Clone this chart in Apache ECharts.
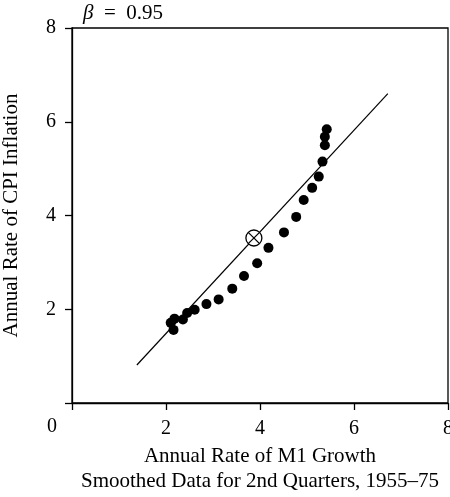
<!DOCTYPE html>
<html>
<head>
<meta charset="utf-8">
<script src="https://cdn.jsdelivr.net/npm/echarts@6/dist/echarts.min.js"></script>
<style>
  html, body { margin: 0; padding: 0; background: #fff; }
  #chart { width: 450px; height: 497px; }
</style>
</head>
<body>
<div id="chart"></div>
<script>
  // smoothed 2nd-quarter data, 1955-75
  var m1Growth = [5.42, 5.38, 5.38, 5.33, 5.25, 5.11, 4.93, 4.77, 4.51, 4.18, 3.94,
                  3.66, 3.41, 3.12, 2.86, 2.61, 2.45, 2.36, 2.18, 2.10, 2.16];
  var cpiInflation = [5.84, 5.68, 5.50, 5.15, 4.83, 4.59, 4.33, 3.97, 3.64, 3.31, 2.98,
                      2.71, 2.44, 2.21, 2.11, 1.99, 1.92, 1.78, 1.80, 1.71, 1.56];
  // fitted line, beta = 0.95
  var fitX = [1.38, 6.72];
  var fitY = [0.81, 6.60];
  // mean point
  var meanPoint = [3.87, 3.52];
  var axisTicks = [0, 2, 4, 6, 8];

  var FONT = '"Liberation Serif", "DejaVu Serif", serif';

  var myChart = echarts.init(document.getElementById('chart'));

  var dots = m1Growth.map(function (x, i) { return [x, cpiInflation[i]]; });
  var fitLine = fitX.map(function (x, i) { return [x, fitY[i]]; });

  var option = {
    animation: false,
    backgroundColor: '#fff',
    title: {
      text: '{b|β}\u2002=\u20020.95',
      left: 78,
      top: -2,
      textStyle: {
        fontFamily: FONT,
        fontSize: 21,
        fontWeight: 'normal',
        color: '#000',
        rich: {
          b: { fontFamily: FONT, fontSize: 21, fontStyle: 'italic', color: '#000' }
        }
      }
    },
    grid: {
      left: 72,
      right: 2,
      top: 28,
      bottom: 94,
      outerBoundsMode: 'none',
      containLabel: false,
      show: true,
      borderColor: '#000',
      borderWidth: 1.3,
      backgroundColor: 'transparent'
    },
    xAxis: {
      type: 'value',
      min: axisTicks[0],
      max: axisTicks[axisTicks.length - 1],
      interval: 2,
      name: 'Annual Rate of M1 Growth\nSmoothed Data for 2nd Quarters, 1955–75',
      nameLocation: 'middle',
      nameGap: 40,
      nameTextStyle: { fontFamily: FONT, fontSize: 21, color: '#000', lineHeight: 25 },
      axisLine: { lineStyle: { color: '#000', width: 1.3 } },
      axisTick: { length: 7, lineStyle: { color: '#000', width: 1.3 } },
      axisLabel: {
        margin: 16,
        fontFamily: FONT,
        fontSize: 20,
        color: '#000',
        formatter: function (v) { return v === 0 ? '' : v; }
      },
      splitLine: { show: false }
    },
    yAxis: {
      type: 'value',
      min: axisTicks[0],
      max: axisTicks[axisTicks.length - 1],
      interval: 2,
      name: 'Annual Rate of CPI Inflation',
      nameLocation: 'middle',
      nameGap: 50,
      nameTextStyle: { fontFamily: FONT, fontSize: 21, color: '#000' },
      axisLine: { lineStyle: { color: '#000', width: 1.3 } },
      axisTick: { length: 7, lineStyle: { color: '#000', width: 1.3 } },
      axisLabel: {
        margin: 16,
        fontFamily: FONT,
        fontSize: 20,
        color: '#000',
        formatter: function (v) { return v === 0 ? '' : v; }
      },
      splitLine: { show: false }
    },
    graphic: [
      {
        type: 'text',
        x: 52,
        y: 427,
        style: {
          text: '0',
          fontFamily: FONT,
          fontSize: 20,
          fill: '#000',
          align: 'center',
          verticalAlign: 'middle'
        }
      }
    ],
    series: [
      {
        type: 'line',
        data: fitLine,
        symbol: 'none',
        lineStyle: { color: '#000', width: 1.2 },
        z: 2
      },
      {
        type: 'scatter',
        data: dots,
        symbol: 'circle',
        symbolSize: 10,
        itemStyle: { color: '#000', opacity: 1 },
        z: 3
      },
      {
        type: 'custom',
        data: [meanPoint],
        z: 4,
        renderItem: function (params, api) {
          var p = api.coord([api.value(0), api.value(1)]);
          var r = 8;
          var d = r / Math.SQRT2;
          return {
            type: 'group',
            children: [
              { type: 'circle', shape: { cx: p[0], cy: p[1], r: r },
                style: { fill: '#fff', stroke: '#000', lineWidth: 1.3 } },
              { type: 'line', shape: { x1: p[0] - d, y1: p[1] - d, x2: p[0] + d, y2: p[1] + d },
                style: { stroke: '#000', lineWidth: 1.3 } },
              { type: 'line', shape: { x1: p[0] - d, y1: p[1] + d, x2: p[0] + d, y2: p[1] - d },
                style: { stroke: '#000', lineWidth: 1.3 } }
            ]
          };
        }
      }
    ]
  };

  myChart.setOption(option);
</script>
</body>
</html>
